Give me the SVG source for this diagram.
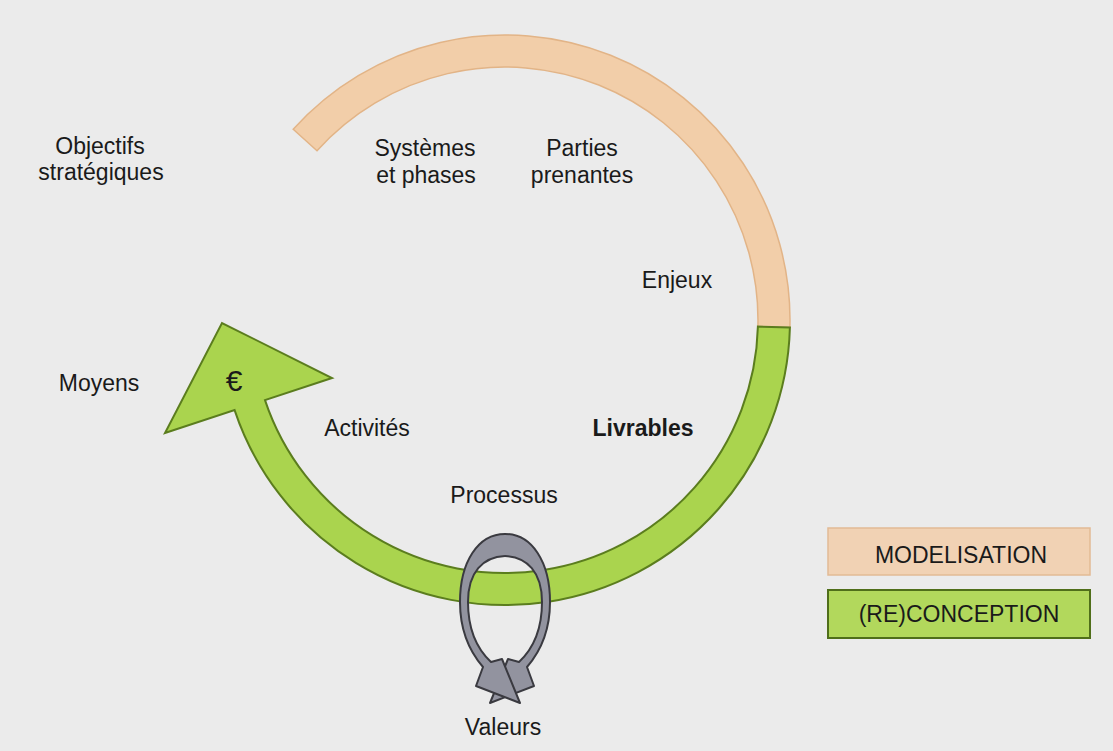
<svg xmlns="http://www.w3.org/2000/svg" width="1113" height="751" viewBox="0 0 1113 751">
<defs>
<style>
.t{font-family:"Liberation Sans",Arial,sans-serif;font-size:23px;fill:#1a1a1a;text-anchor:middle}
.b{font-weight:bold}
.orange{fill:#f2cea9;stroke:#e2b487;stroke-width:1.5}
.green{fill:#aad44e;stroke:#5b7d1e;stroke-width:2}
.loop{fill:#92939f;stroke:#3a3a40;stroke-width:2;stroke-linejoin:round}
</style>
</defs>
<rect width="1113" height="751" fill="#ebebeb"/>
<g id="connectors">
<path id="modelisation-arc" class="orange" d="M 293.2 129.3 A 285 285 0 0 1 789.9 327.5 L 757.9 326.6 A 253 253 0 0 0 317.0 150.7 Z"/>
<path id="conception-arc" class="green" d="M 789.9 327.5 A 285 285 0 0 1 234.6 410.1 L 165 433 L 222 323 L 332 378 L 265 400.1 A 253 253 0 0 0 757.9 326.6 Z"/>
<g id="loop">
<path class="loop" d="M 505 534 C 532 534 550 562 550 602 C 550 632 540 652 527 667 L 534 686 L 490 703 L 508 659 L 519 662 C 534 648 542 628 542 602 C 542 572 527 557 505 556"/>
<path class="loop" d="M 505 556 C 483 557 468 572 468 602 C 468 628 476 648 491 662 L 502 659 L 520 703 L 476 686 L 483 667 C 470 652 460 632 460 602 C 460 562 478 534 505 534"/>
</g>
</g>
<g id="objectifs"><text class="t" x="100" y="154">Objectifs</text><text class="t" x="101" y="180">stratégiques</text></g>
<g id="systemes"><text class="t" x="425" y="156">Systèmes</text><text class="t" x="426" y="183">et phases</text></g>
<g id="parties"><text class="t" x="582" y="156">Parties</text><text class="t" x="582" y="183">prenantes</text></g>
<g id="enjeux"><text class="t" x="677" y="288">Enjeux</text></g>
<g id="moyens"><text class="t" x="99" y="391">Moyens</text></g>
<g id="euro"><text class="t" x="234" y="391" style="font-size:30px">€</text></g>
<g id="activites"><text class="t" x="367" y="436">Activités</text></g>
<g id="livrables"><text class="t b" x="643" y="436">Livrables</text></g>
<g id="processus"><text class="t" x="504" y="503">Processus</text></g>
<g id="valeurs"><text class="t" x="503" y="735">Valeurs</text></g>
<g id="legend-modelisation"><rect x="828" y="528" width="262" height="47" fill="#f1d2b4" stroke="#e2bb95" stroke-width="1.5"/><text class="t" x="961" y="563">MODELISATION</text></g>
<g id="legend-conception"><rect x="828" y="590" width="262" height="48" fill="#b2d85c" stroke="#4f6e1a" stroke-width="2"/><text class="t" x="959" y="622">(RE)CONCEPTION</text></g>
</svg>
